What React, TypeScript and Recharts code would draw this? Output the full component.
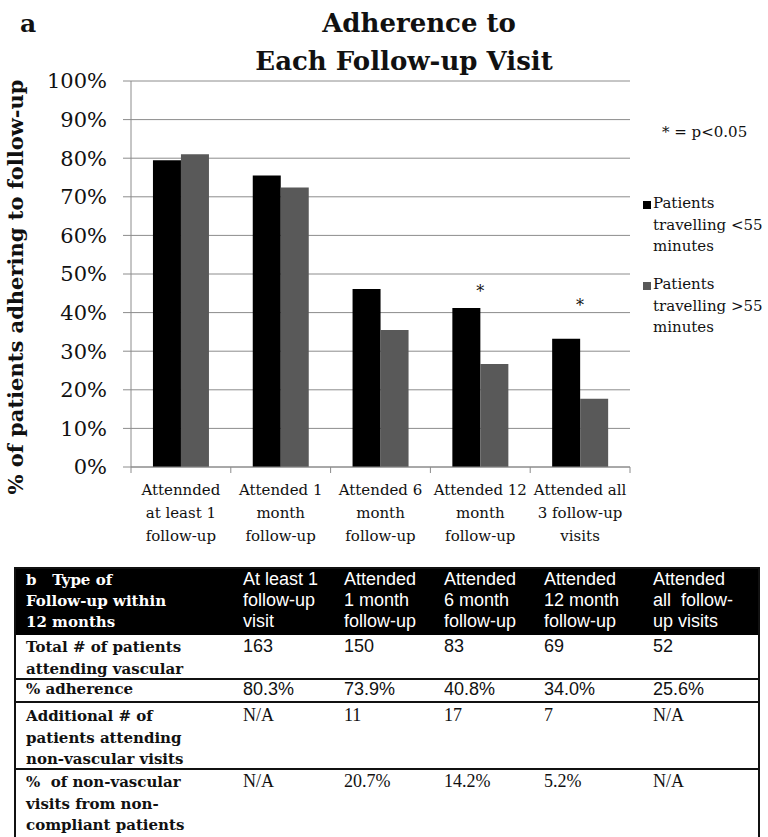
import React from 'react';
import { BarChart, Bar, XAxis, YAxis, CartesianGrid, Legend, ReferenceDot } from 'recharts';

// ---------- chart data ----------
const categories = [
  'Attennded\nat least 1\nfollow-up',
  'Attended 1\nmonth\nfollow-up',
  'Attended 6\nmonth\nfollow-up',
  'Attended 12\nmonth\nfollow-up',
  'Attended all\n3 follow-up\nvisits',
];
const under55 = [79.5, 75.5, 46.1, 41.2, 33.2];
const over55 = [81.0, 72.4, 35.5, 26.7, 17.7];
const seriesNames = ['Patients\ntravelling <55\nminutes', 'Patients\ntravelling >55\nminutes'];
const significanceMarkLevel: (number | null)[] = [null, null, null, 46.5, 42.7];
const yTicks = [0, 10, 20, 30, 40, 50, 60, 70, 80, 90, 100];

// ---------- table data ----------
const tableHeader = [
  ['b   Type of', 'Follow-up within', '12 months'],
  ['At least 1', 'follow-up', 'visit'],
  ['Attended', '1 month', 'follow-up'],
  ['Attended', '6 month', 'follow-up'],
  ['Attended', '12 month', 'follow-up'],
  ['Attended', 'all  follow-', 'up visits'],
];
const rowLabels = [
  ['Total # of patients', 'attending vascular'],
  ['% adherence'],
  ['Additional # of', 'patients attending', 'non-vascular visits'],
  ['%  of non-vascular', 'visits from non-', 'compliant patients'],
];
const totalVascular = ['163', '150', '83', '69', '52'];
const adherencePct = ['80.3%', '73.9%', '40.8%', '34.0%', '25.6%'];
const additionalNonVascular = ['N/A', '11', '17', '7', 'N/A'];
const nonVascularPct = ['N/A', '20.7%', '14.2%', '5.2%', 'N/A'];

const data = categories.map((c, i) => ({ category: c, under55: under55[i], over55: over55[i] }));

const SERIF = '"DejaVu Serif", serif';
const SANS = '"Liberation Sans", Arial, sans-serif';
const TIMES = '"Liberation Serif", "Times New Roman", serif';
const axisColor = '#8c8c8c';
const black = '#000000';
const gray = '#595959';
const LEGEND_W = 125;

const XTick = (props: any) => {
  const { x, y, payload, index } = props;
  const half = payload && payload.offset ? payload.offset : 49.9;
  const lines = String(payload.value).split('\n');
  return (
    <g>
      <line x1={x - half} x2={x - half} y1={y} y2={y + 6} stroke={axisColor} />
      {index === categories.length - 1 && (
        <line x1={x + half} x2={x + half} y1={y} y2={y + 6} stroke={axisColor} />
      )}
      <text x={x} y={y} textAnchor="middle" fontFamily={SERIF} fontSize={15} fill="#111">
        {lines.map((l, i) => (
          <tspan key={i} x={x} y={y + 28 + i * 23}>
            {l}
          </tspan>
        ))}
      </text>
    </g>
  );
};

const LegendContent = (props: any) => {
  const { payload } = props;
  return (
    <div style={{ fontFamily: SERIF, fontSize: 15, lineHeight: '21.5px', color: '#111' }}>
      {(payload || []).map((entry: any, i: number) => (
        <div key={i} style={{ display: 'flex', alignItems: 'flex-start', marginBottom: 16.5 }}>
          <div style={{ width: 8, height: 8, background: entry.color, marginTop: 8, marginRight: 2, flex: 'none' }} />
          <div style={{ whiteSpace: 'pre' }}>{entry.value}</div>
        </div>
      ))}
    </div>
  );
};

const StarShape = (props: any) => (
  <text x={props.cx} y={props.cy + 9} textAnchor="middle" fontFamily={SERIF} fontSize={16} fill="#111">
    *
  </text>
);

const colWidths = [227, 101, 100, 100, 109, 105];

const rowDefs = [
  { height: 45, values: totalVascular, font: SANS, size: 18, pad: 1, labelPad: 2, lh: 21.5 },
  { height: 23, values: adherencePct, font: SANS, size: 18, pad: 0, labelPad: 0, lh: 18 },
  { height: 67, values: additionalNonVascular, font: TIMES, size: 18, pad: 2, labelPad: 3, lh: 21.5 },
  { height: 69, values: nonVascularPct, font: TIMES, size: 18, pad: 1, labelPad: 2, lh: 21.5 },
];

const Table = () => (
  <div
    style={{
      position: 'absolute',
      left: 14,
      top: 567,
      width: 746,
      boxSizing: 'border-box',
      border: '2px solid #111',
      background: '#fff',
    }}
  >
    <div style={{ display: 'flex', height: 66, background: '#000', color: '#fff' }}>
      {tableHeader.map((lines, ci) => (
        <div
          key={ci}
          style={{
            width: colWidths[ci],
            flex: 'none',
            paddingLeft: ci === 0 ? 10 : 0,
            boxSizing: 'border-box',
            fontFamily: ci === 0 ? SERIF : SANS,
            fontWeight: ci === 0 ? 'bold' : 'normal',
            fontSize: ci === 0 ? 15 : 18,
            lineHeight: '21px',
            paddingTop: ci === 0 ? 1 : 0,
            whiteSpace: 'pre',
          }}
        >
          {lines.join('\n')}
        </div>
      ))}
    </div>
    {rowDefs.map((r, ri) => (
      <div
        key={ri}
        style={{
          display: 'flex',
          height: r.height,
          boxSizing: 'border-box',
          borderBottom: ri < rowDefs.length - 1 ? '2px solid #111' : 'none',
          color: '#111',
        }}
      >
        <div
          style={{
            width: colWidths[0],
            flex: 'none',
            paddingLeft: 10,
            boxSizing: 'border-box',
            fontFamily: SERIF,
            fontWeight: 'bold',
            fontSize: 15,
            lineHeight: r.lh + 'px',
            paddingTop: r.labelPad,
            whiteSpace: 'pre',
          }}
        >
          {rowLabels[ri].join('\n')}
        </div>
        {r.values.map((v, vi) => (
          <div
            key={vi}
            style={{
              width: colWidths[vi + 1],
              flex: 'none',
              boxSizing: 'border-box',
              fontFamily: r.font,
              fontSize: r.size,
              lineHeight: r.lh + 'px',
              paddingTop: r.pad,
            }}
          >
            {v}
          </div>
        ))}
      </div>
    ))}
  </div>
);

export default function App() {
  return (
    <div
      style={{
        position: 'absolute',
        left: 0,
        top: 0,
        width: 768,
        height: 837,
        overflow: 'hidden',
        background: '#fff',
      }}
    >
      <BarChart
        width={768}
        height={545}
        data={data}
        margin={{ top: 81, right: 138 - LEGEND_W, left: 0, bottom: 0 }}
        barCategoryGap="22%"
        barGap={0}
      >
        <CartesianGrid vertical={false} stroke={axisColor} strokeWidth={1} />
        <XAxis
          dataKey="category"
          height={78}
          tickSize={0}
          tickMargin={0}
          tickLine={false}
          axisLine={{ stroke: axisColor }}
          tick={<XTick />}
          interval={0}
        />
        <YAxis
          width={131}
          domain={[0, 100]}
          ticks={yTicks}
          tickFormatter={(v: number) => `${v}%`}
          tickSize={8}
          tickMargin={16}
          tickLine={{ stroke: axisColor }}
          axisLine={{ stroke: axisColor }}
          tick={{ fontFamily: SERIF, fontSize: 21, fill: '#111' }}
          interval={0}
        />
        <Legend
          layout="horizontal"
          verticalAlign="middle"
          align="right"
          wrapperStyle={{ position: 'absolute', left: 643, top: 193, width: LEGEND_W }}
          content={<LegendContent />}
        />
        <Bar dataKey="under55" name={seriesNames[0]} fill={black} isAnimationActive={false} />
        <Bar dataKey="over55" name={seriesNames[1]} fill={gray} isAnimationActive={false} />
        {significanceMarkLevel.map((lvl, i) =>
          lvl == null ? null : (
            <ReferenceDot key={i} x={categories[i]} y={lvl} r={1} shape={StarShape} />
          )
        )}
      </BarChart>
      <svg
        width={768}
        height={545}
        style={{ position: 'absolute', left: 0, top: 0, pointerEvents: 'none' }}
      >
        <text x={20} y={32} fontFamily={SERIF} fontWeight="bold" fontSize={25} fill="#111">
          a
        </text>
        <text x={419} y={32} textAnchor="middle" fontFamily={SERIF} fontWeight="bold" fontSize={26} fill="#111">
          Adherence to
        </text>
        <text x={404} y={70} textAnchor="middle" fontFamily={SERIF} fontWeight="bold" fontSize={26} fill="#111">
          Each Follow-up Visit
        </text>
        <text x={662} y={137} fontFamily={SERIF} fontSize={15} fill="#111">
          * = p&lt;0.05
        </text>
        <text
          transform="translate(23,287) rotate(-90)"
          textAnchor="middle"
          fontFamily={SERIF}
          fontWeight="bold"
          fontSize={21}
          fill="#111"
        >
          % of patients adhering to follow-up
        </text>
      </svg>
      <Table />
    </div>
  );
}
